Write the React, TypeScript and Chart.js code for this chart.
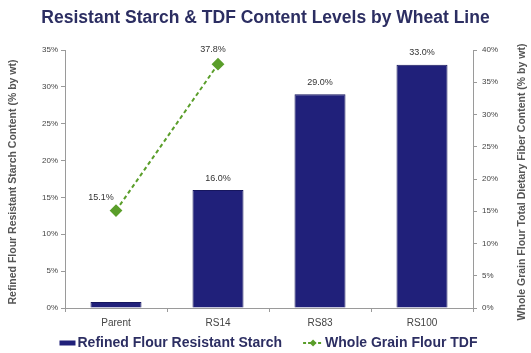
import React, { useEffect, useRef } from "react";
import { Chart, registerables } from "chart.js";

Chart.register(...registerables);

// Wheat lines and measured contents (% by weight)
const wheatLines = ["Parent", "RS14", "RS83", "RS100"];
const refinedFlourStarch = [0.8, 16.0, 29.0, 33.0];
const starchLabelShown = [false, true, true, true];
const wholeGrainTdf: (number | null)[] = [15.1, 37.8, null, null];

const starchAxisMax = 35;
const tdfAxisMax = 40;
const tickStep = 5;

const seriesNames = ["Refined Flour Resistant Starch", "Whole Grain Flour TDF"];
const chartTitle = "Resistant Starch & TDF Content Levels by Wheat Line";
const leftAxisTitle = "Refined Flour Resistant Starch Content (% by wt)";
const rightAxisTitle = "Whole Grain Flour Total Dietary Fiber Content (% by wt)";

const FONT = "'Liberation Sans', Arial, Helvetica, sans-serif";
const NAVY = "#20207a";
const GREEN = "#5a9e2a";
const TEXT_NAVY = "#2c2e62";
const AXIS_GRAY = "#9a9a9a";
const LABEL_GRAY = "#444444";

const pct = (v: number) => `${v.toFixed(1)}%`;

// Value labels above bars and line points
const valueLabels = {
  id: "valueLabels",
  afterDatasetsDraw(chart: any) {
    const ctx = chart.ctx as CanvasRenderingContext2D;
    ctx.save();
    ctx.font = `9px ${FONT}`;
    ctx.fillStyle = "#333333";
    ctx.textAlign = "center";
    ctx.textBaseline = "middle";
    const bars = chart.getDatasetMeta(0).data;
    bars.forEach((bar: any, i: number) => {
      if (!starchLabelShown[i]) return;
      ctx.fillText(pct(refinedFlourStarch[i]), bar.x, bar.y - 12);
    });
    const pts = chart.getDatasetMeta(1).data;
    const shifts = [
      [-15, -13],
      [-5, -15],
    ];
    pts.forEach((p: any, i: number) => {
      const v = wholeGrainTdf[i];
      if (v == null) return;
      const [dx, dy] = shifts[i] || [0, -14];
      ctx.fillText(pct(v), p.x + dx, p.y + dy);
    });
    ctx.restore();
  },
};

// Rotated axis titles (both read bottom-to-top)
const axisTitles = {
  id: "axisTitles",
  afterDraw(chart: any) {
    const ctx = chart.ctx as CanvasRenderingContext2D;
    const area = chart.chartArea;
    const cy = (area.top + area.bottom) / 2 + 3;
    ctx.save();
    ctx.font = `bold 10.5px ${FONT}`;
    ctx.fillStyle = "#555555";
    ctx.textAlign = "center";
    ctx.textBaseline = "middle";
    const draw = (text: string, x: number, maxW: number) => {
      ctx.save();
      ctx.translate(x, cy);
      ctx.rotate(-Math.PI / 2);
      ctx.fillText(text, 0, 0, maxW);
      ctx.restore();
    };
    draw(leftAxisTitle, 13, 252);
    draw(rightAxisTitle, chart.width - 9, 300);
    ctx.restore();
  },
};

// Legend row under the category axis
const bottomLegend = {
  id: "bottomLegend",
  afterDraw(chart: any) {
    const ctx = chart.ctx as CanvasRenderingContext2D;
    const y = chart.height - 10;
    ctx.save();
    ctx.font = `bold 14px ${FONT}`;
    ctx.textBaseline = "middle";
    const w1 = ctx.measureText(seriesNames[0]).width;
    const w2 = ctx.measureText(seriesNames[1]).width;
    const markW1 = 16;
    const markW2 = 20;
    const gap = 2;
    const between = 21;
    const total = markW1 + gap + w1 + between + markW2 + gap + w2;
    let x = chart.width / 2 - total / 2 + 3;

    ctx.fillStyle = NAVY;
    ctx.fillRect(x, y - 2.5, markW1, 5);
    x += markW1 + gap;
    ctx.fillStyle = TEXT_NAVY;
    ctx.fillText(seriesNames[0], x, y);
    x += w1 + between;

    ctx.strokeStyle = GREEN;
    ctx.lineWidth = 2;
    ctx.setLineDash([3, 2]);
    ctx.beginPath();
    ctx.moveTo(x, y);
    ctx.lineTo(x + markW2, y);
    ctx.stroke();
    ctx.setLineDash([]);
    const cx = x + markW2 / 2;
    ctx.fillStyle = GREEN;
    ctx.beginPath();
    ctx.moveTo(cx, y - 3.5);
    ctx.lineTo(cx + 3.5, y);
    ctx.lineTo(cx, y + 3.5);
    ctx.lineTo(cx - 3.5, y);
    ctx.closePath();
    ctx.fill();
    x += markW2 + gap;
    ctx.fillStyle = TEXT_NAVY;
    ctx.fillText(seriesNames[1], x, y);
    ctx.restore();
  },
};

export default function App() {
  const canvasRef = useRef<HTMLCanvasElement | null>(null);

  useEffect(() => {
    document.body.style.margin = "0";
    document.body.style.background = "#ffffff";
    const canvas = canvasRef.current;
    if (!canvas) return;

    const tickFont = { family: FONT, size: 8 };

    const chart = new Chart(canvas, {
      type: "bar",
      data: {
        labels: wheatLines,
        datasets: [
          {
            type: "bar",
            label: seriesNames[0],
            data: refinedFlourStarch,
            backgroundColor: NAVY,
            borderColor: "#16165e",
            borderWidth: 1,
            barPercentage: 0.5,
            categoryPercentage: 1,
            yAxisID: "y",
            order: 2,
          },
          {
            type: "line",
            label: seriesNames[1],
            data: wholeGrainTdf,
            borderColor: GREEN,
            backgroundColor: GREEN,
            borderWidth: 2,
            borderDash: [4, 3],
            pointStyle: "rectRot",
            pointRadius: 5,
            pointBackgroundColor: GREEN,
            pointBorderColor: GREEN,
            spanGaps: false,
            yAxisID: "y1",
            order: 1,
          } as any,
        ],
      },
      options: {
        responsive: false,
        animation: false,
        layout: { padding: 0 },
        plugins: {
          legend: { display: false },
          tooltip: { enabled: false },
          title: {
            display: true,
            text: chartTitle,
            color: TEXT_NAVY,
            font: { family: FONT, size: 17.5, weight: "bold", lineHeight: 1.2 },
            padding: { top: 8, bottom: 21 },
          },
        },
        scales: {
          x: {
            grid: {
              offset: true,
              drawOnChartArea: false,
              tickLength: 4,
              color: AXIS_GRAY,
            },
            border: { color: AXIS_GRAY },
            ticks: { font: { family: FONT, size: 10 }, color: LABEL_GRAY, padding: 5 },
            afterFit: (s: any) => {
              s.height = 45;
            },
          },
          y: {
            position: "left",
            min: 0,
            max: starchAxisMax,
            grid: { drawOnChartArea: false, tickLength: 4, color: AXIS_GRAY },
            border: { color: AXIS_GRAY },
            ticks: {
              stepSize: tickStep,
              font: tickFont,
              color: LABEL_GRAY,
              padding: 3,
              callback: (v: any) => `${v}%`,
            },
            afterFit: (s: any) => {
              s.width = 65;
            },
          },
          y1: {
            position: "right",
            min: 0,
            max: tdfAxisMax,
            grid: { drawOnChartArea: false, tickLength: 4, color: AXIS_GRAY },
            border: { color: AXIS_GRAY },
            ticks: {
              stepSize: tickStep,
              font: tickFont,
              color: LABEL_GRAY,
              padding: 5,
              callback: (v: any) => `${v}%`,
            },
            afterFit: (s: any) => {
              s.width = 58;
            },
          },
        },
      },
      plugins: [valueLabels, axisTitles, bottomLegend],
    });

    return () => chart.destroy();
  }, []);

  return <canvas ref={canvasRef} width={531} height={353} style={{ display: "block" }} />;
}
